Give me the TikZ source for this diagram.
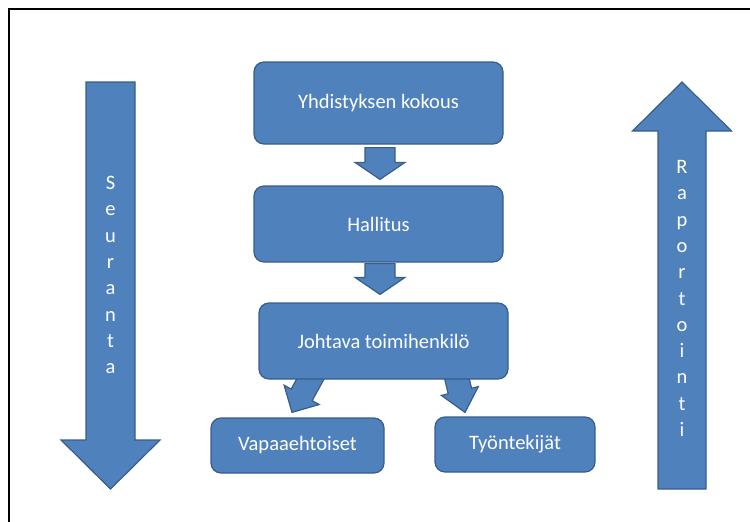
\documentclass[tikz,border=0pt]{standalone}
\usepackage{fontspec}
\setmainfont{Carlito}
\usetikzlibrary{calc}
\usetikzlibrary{backgrounds}
\definecolor{boxblue}{HTML}{4F81BD}
\definecolor{edgeblue}{HTML}{385D8A}
\tikzset{
  stage/.style={draw=edgeblue, line width=1.2pt, fill=boxblue, rounded corners=10pt,
    text=white, font=\fontsize{20.5}{24}\selectfont, minimum width=#1, inner sep=0pt},
  letters/.style={text=white, align=center, font=\fontsize{20.5}{26.3}\selectfont, inner sep=0pt},
  fat arrow/.style args={#1/#2/#3}{fill=boxblue, draw=edgeblue, line width=1.2pt,
    to path={
      ($(\tikztostart)!#1!-90:(\tikztotarget)$)
      -- ($(\tikztotarget)!#3!(\tikztostart)!#1!90:(\tikztostart)$)
      -- ($(\tikztotarget)!#3!(\tikztostart)!#2!90:(\tikztostart)$)
      -- (\tikztotarget)
      -- ($(\tikztotarget)!#3!(\tikztostart)!#2!-90:(\tikztostart)$)
      -- ($(\tikztotarget)!#3!(\tikztostart)!#1!-90:(\tikztostart)$)
      -- ($(\tikztostart)!#1!90:(\tikztotarget)$) -- cycle
    }},
}

\begin{document}
\begin{tikzpicture}[x=1pt, y=-1pt]
    \useasboundingbox (0,0) rectangle (750,522);
    \draw [line width=2pt] (9,522) -- (9,9) -- (750,9);

    \node [stage=249pt, minimum height=82pt] (kokous) at (378.5,103) {Yhdistyksen kokous};
    \node [stage=249pt, minimum height=76pt] (hallitus) at (378.5,224) {Hallitus};
    \node [stage=249pt, minimum height=76pt] (johtaja) at (383.5,341) {Johtava toimihenkilö};
    \node [stage=173pt, minimum height=55pt] (vapaa) at (297.5,445.5) {Vapaaehtoiset};
    \node [stage=160pt, minimum height=55pt] (tyo) at (515,444.5) {Työntekijät};

    \coordinate (k-out) at ([xshift=1.5pt,yshift=-3pt]kokous.south);
    \coordinate (h-in) at ([xshift=1.5pt,yshift=6pt]hallitus.north);
    \coordinate (h-out) at ([xshift=1.5pt,yshift=-1pt]hallitus.south);
    \coordinate (j-top) at ([yshift=8pt]johtaja.north);
    \coordinate (j-in) at (j-top -| h-out);
    \coordinate (j-left) at ([xshift=-68.5pt,yshift=9pt]johtaja.south);
    \coordinate (j-right) at ([xshift=71.5pt,yshift=9pt]johtaja.south);
    \coordinate (v-in) at ([xshift=-5.5pt,yshift=5pt]vapaa.north);
    \coordinate (t-in) at ([xshift=-50pt,yshift=4pt]tyo.north);

    \begin{scope}[on background layer]
    \draw [fat arrow=15pt/25pt/17pt] (k-out) to (h-in);
    \draw [fat arrow=15pt/25pt/17pt] (h-out) to (j-in);
    \draw [fat arrow=12pt/20pt/20pt] (j-left) to (v-in);
    \draw [fat arrow=12pt/19pt/22pt] (j-right) to (t-in);
    \end{scope}

    % side arrows
    \coordinate (seu-top) at (110.5,82);
    \coordinate (seu-end) at (110.5,489);
    \coordinate (rap-bot) at (682,489);
    \coordinate (rap-end) at (682,82);
    \draw [fat arrow=24.5pt/49.5pt/49pt] (seu-top) to (seu-end);
    \draw [fat arrow=24pt/49.5pt/49pt] (rap-bot) to (rap-end);

    \node [letters] (seu) at (110.5,275) {S\\e\\u\\r\\a\\n\\t\\a};
    \node [letters] (rap) at (682,298.5) {R\\a\\p\\o\\r\\t\\o\\i\\n\\t\\i};
\end{tikzpicture}
\end{document}
